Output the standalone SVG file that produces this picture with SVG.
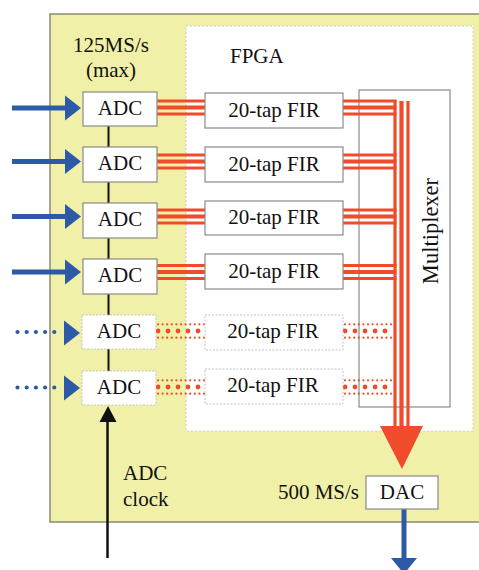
<svg xmlns="http://www.w3.org/2000/svg" width="479" height="570" viewBox="0 0 479 570">
<style>
text{font-family:"Liberation Serif","Times New Roman",serif;font-size:21px;fill:#111}
.box{fill:#fff;stroke:#8a8a8a;stroke-width:1.2}
.dbox{fill:#fff;stroke:#c4c4c4;stroke-width:1;stroke-dasharray:2 1.5}
.r{stroke:#f04b2b;fill:none}
.rt{stroke-width:3.2}
.rm{stroke-width:4.2}
.ds{stroke:#f04b2b;stroke-width:2.2;stroke-linecap:round;stroke-dasharray:0 4.6;fill:none}
.dl{stroke:#f04b2b;stroke-width:4.8;stroke-linecap:round;stroke-dasharray:0 10;fill:none}
.b{stroke:#2d5aa6;stroke-width:5;fill:none}
.bd{stroke:#2d5aa6;stroke-width:4.2;stroke-linecap:round;stroke-dasharray:0 9.2;fill:none}
.bh{fill:#2d5aa6}
</style>
<defs>
<g id="tri">
<line class="r rt" x1="0" y1="-6.5" x2="48" y2="-6.5"/>
<line class="r rm" x1="0" y1="0" x2="48" y2="0"/>
<line class="r rt" x1="0" y1="6.5" x2="48" y2="6.5"/>
</g>
<g id="tri2">
<line class="r rt" x1="0" y1="-6.5" x2="53.5" y2="-6.5"/>
<line class="r rm" x1="0" y1="0" x2="53.5" y2="0"/>
<line class="r rt" x1="0" y1="6.5" x2="53.5" y2="6.5"/>
</g>
<g id="dtri">
<line class="ds" x1="158" y1="-6.7" x2="204" y2="-6.7"/>
<line class="dl" x1="158" y1="0" x2="204" y2="0"/>
<line class="ds" x1="158" y1="6.7" x2="204" y2="6.7"/>
<line class="ds" x1="345" y1="-6.7" x2="394" y2="-6.7"/>
<line class="dl" x1="345" y1="0" x2="394" y2="0"/>
<line class="ds" x1="345" y1="6.7" x2="394" y2="6.7"/>
</g>
<path id="ah" d="M0,-12.5 L16,0 L0,12.5 Z"/>
</defs>

<g id="board">
<rect x="50" y="14" width="440" height="508" fill="#f0f0a8" stroke="#8c8a6e" stroke-width="1.5"/>
<text x="111" y="52" text-anchor="middle">125MS/s</text>
<text x="111" y="77" text-anchor="middle">(max)</text>
<text x="123" y="480">ADC</text>
<text x="123" y="506">clock</text>
<text x="359" y="499" text-anchor="end">500 MS/s</text>
</g>

<g id="fpga">
<rect x="186" y="26" width="287" height="405" fill="#fff" stroke="#cfcfcf" stroke-width="1" stroke-dasharray="2 2"/>
<text x="230" y="63">FPGA</text>
</g>

<g id="mux">
<rect class="box" x="359" y="90" width="91" height="317"/>
<text x="438" y="231" text-anchor="middle" transform="rotate(-90 438 231)" style="font-size:22.5px">Multiplexer</text>
</g>

<g id="connectors">
<line x1="108.5" y1="126" x2="108.5" y2="371" stroke="#111" stroke-width="2"/>
<use href="#tri" x="157" y="107.5"/>
<use href="#tri" x="157" y="161.5"/>
<use href="#tri" x="157" y="216.5"/>
<use href="#tri" x="157" y="272"/>
<use href="#tri2" x="343" y="107.5"/>
<use href="#tri2" x="343" y="161.5"/>
<use href="#tri2" x="343" y="216.5"/>
<use href="#tri2" x="343" y="272"/>
<use href="#dtri" y="331"/>
<use href="#dtri" y="387"/>
<line class="r rt" x1="395" y1="100" x2="395" y2="428"/>
<line class="r rm" x1="401.5" y1="101" x2="401.5" y2="428"/>
<line class="r rt" x1="408" y1="101" x2="408" y2="428"/>
<polygon points="380,426 423,426 402,469" fill="#f04b2b"/>
<line class="b" x1="12" y1="108" x2="67" y2="108"/>
<line class="b" x1="12" y1="161.5" x2="67" y2="161.5"/>
<line class="b" x1="12" y1="216.5" x2="67" y2="216.5"/>
<line class="b" x1="12" y1="272" x2="67" y2="272"/>
<use href="#ah" class="bh" x="65" y="108"/>
<use href="#ah" class="bh" x="65" y="161.5"/>
<use href="#ah" class="bh" x="65" y="216.5"/>
<use href="#ah" class="bh" x="65" y="272"/>
<line class="bd" x1="17.5" y1="332" x2="63" y2="332"/>
<line class="bd" x1="17.5" y1="387.5" x2="63" y2="387.5"/>
<use href="#ah" class="bh" x="64" y="333"/>
<use href="#ah" class="bh" x="64" y="388"/>
<line x1="107.5" y1="558" x2="107.5" y2="420" stroke="#111" stroke-width="2.5"/>
<polygon points="99.5,422 116.5,422 108,406" fill="#111"/>
<line class="b" x1="404" y1="509" x2="404" y2="560"/>
<polygon points="391,558 417,558 404,574" fill="#2d5aa6"/>
</g>

<g id="adc1"><rect class="box" x="83" y="92" width="74" height="34"/><text x="120" y="114.5" text-anchor="middle">ADC</text></g>
<g id="adc2"><rect class="box" x="83" y="147" width="74" height="35"/><text x="120" y="169.5" text-anchor="middle">ADC</text></g>
<g id="adc3"><rect class="box" x="83" y="203" width="74" height="35"/><text x="120" y="225.5" text-anchor="middle">ADC</text></g>
<g id="adc4"><rect class="box" x="83" y="259" width="74" height="35"/><text x="120" y="281.5" text-anchor="middle">ADC</text></g>
<g id="adc5"><rect class="dbox" x="82" y="315" width="74" height="34"/><text x="119" y="337.5" text-anchor="middle">ADC</text></g>
<g id="adc6"><rect class="dbox" x="82" y="371" width="74" height="34"/><text x="119" y="393.5" text-anchor="middle">ADC</text></g>

<g id="fir1"><rect class="box" x="205" y="93" width="138" height="35"/><text x="274" y="116.5" text-anchor="middle">20-tap FIR</text></g>
<g id="fir2"><rect class="box" x="205" y="147" width="138" height="35"/><text x="274" y="170.5" text-anchor="middle">20-tap FIR</text></g>
<g id="fir3"><rect class="box" x="205" y="201" width="138" height="34"/><text x="274" y="224" text-anchor="middle">20-tap FIR</text></g>
<g id="fir4"><rect class="box" x="205" y="254" width="138" height="35"/><text x="274" y="277.5" text-anchor="middle">20-tap FIR</text></g>
<g id="fir5"><rect class="dbox" x="205" y="315" width="138" height="35"/><text x="273" y="338" text-anchor="middle">20-tap FIR</text></g>
<g id="fir6"><rect class="dbox" x="205" y="369" width="138" height="35"/><text x="273" y="392" text-anchor="middle">20-tap FIR</text></g>

<g id="dac"><rect class="box" x="366" y="476" width="72" height="33"/><text x="402" y="499" text-anchor="middle">DAC</text></g>
</svg>
